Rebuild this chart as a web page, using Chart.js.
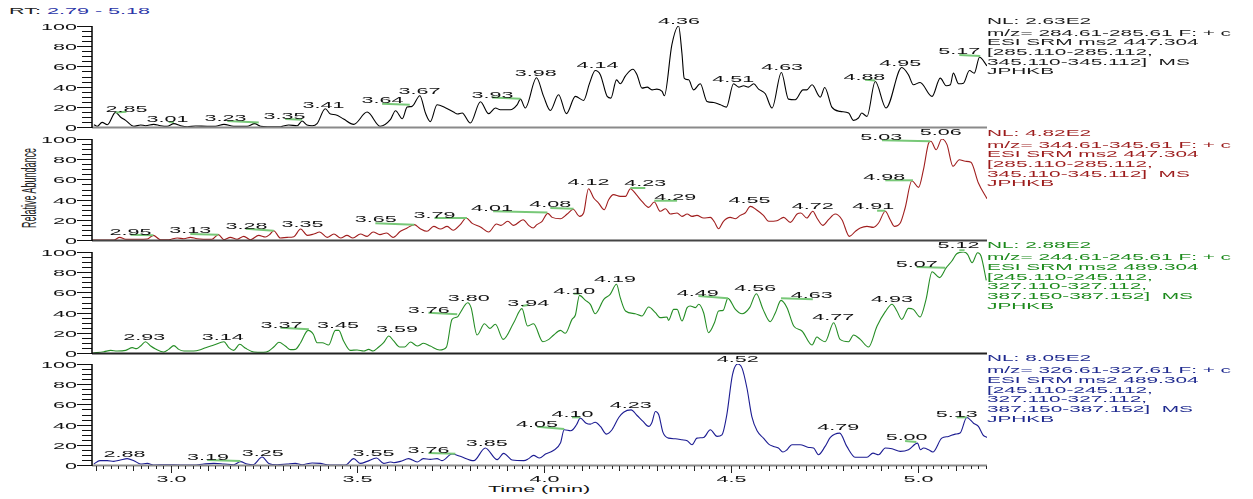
<!DOCTYPE html>
<html>
<head>
<meta charset="utf-8">
<script src="https://cdn.jsdelivr.net/npm/chart.js@4/dist/chart.umd.min.js"></script>
<style>
  html, body { margin: 0; padding: 0; background: #fff; }
  #wrap { position: relative; width: 1253px; height: 499px; overflow: hidden;
          font-family: "Liberation Sans", Arial, sans-serif; }
  canvas { position: absolute; left: 0; }
  .wide { position: absolute; white-space: pre; font-size: 9.5px; transform-origin: 0 0; transform: scaleX(2.27); }
  .info { transform: scaleX(2.19); }
  .info div { height: 9.7px; line-height: 9.7px; }
  .info div:first-child { margin-bottom: 2px; }
  #yTitle { position: absolute; width: 110px; height: 12px; line-height: 12px; left: -26.5px; top: 182px;
            text-align: center; font-size: 9px; color: #222; white-space: pre;
            transform: rotate(-90deg) scaleY(2.27); }
</style>
</head>
<body>
<div id="wrap">
  <div class="wide" style="left:9px;top:5.7px;line-height:10px;color:#222">RT: <span style="color:#2b36a8">2.79 - 5.18</span></div>
  <div id="yTitle">Relative Abundance</div>
  <div class="wide" style="left:488px;top:484px;line-height:10px;color:#111">Time (min)</div>
</div>
<script>
// ---- retention time range and axis ticks ----
const rtMin = 2.79;
const rtMax = 5.184;
const xTickLabels = ['3.0', '3.5', '4.0', '4.5', '5.0'];
const yTickLabels = ['0', '20', '40', '60', '80', '100'];

// ---- trace 1: m/z 284.61-285.61 ----
const rt1 = [2.795,2.804,2.817,2.831,2.853,2.866,2.880,2.902,2.920,2.933,
  2.955,2.973,2.991,3.009,3.027,3.045,3.067,3.098,3.120,3.143,
  3.169,3.205,3.225,3.241,3.259,3.294,3.316,3.339,3.352,3.365,
  3.379,3.392,3.414,3.428,3.441,3.463,3.490,3.526,3.561,3.588,
  3.602,3.620,3.633,3.646,3.667,3.682,3.695,3.713,3.735,3.757,
  3.768,3.780,3.802,3.829,3.851,3.869,3.882,3.909,3.927,3.936,
  3.949,3.979,3.998,4.016,4.038,4.059,4.083,4.105,4.121,4.136,
  4.150,4.168,4.178,4.193,4.203,4.217,4.237,4.248,4.261,4.275,
  4.288,4.301,4.315,4.321,4.341,4.359,4.368,4.374,4.386,4.399,
  4.417,4.435,4.453,4.471,4.487,4.506,4.520,4.533,4.546,4.560,
  4.573,4.591,4.609,4.634,4.653,4.671,4.692,4.702,4.716,4.738,
  4.750,4.769,4.791,4.814,4.827,4.840,4.849,4.863,4.885,4.914,
  4.956,4.974,4.987,5.005,5.037,5.059,5.075,5.086,5.094,5.108,
  5.121,5.137,5.150,5.164,5.184];
const ab1 = [2.3,0.7,4.6,2.3,14.5,9.9,6.6,0.7,2,1.3,
  2.6,1.3,0.7,3.3,1.3,0.3,1,0.7,0.7,2.6,
  0.7,0.7,3.3,0.7,0.3,0.3,2,1.3,5.9,2,
  1.3,3.3,18,12.8,12.2,7.9,2.6,14.8,0.7,7.2,
  16.1,8.2,19.7,20.4,30.9,13.8,5.3,22,19.1,14.8,
  12.8,13.8,3.9,25,13.2,18.8,17.1,17.1,22,27.6,
  18.8,48.7,30.3,16.4,31.9,13.2,30.3,26.3,43.4,55.9,
  51.6,30.3,28.6,46.7,42.8,50.7,57.2,51.6,38.5,39.5,
  36.8,37.5,35.2,30.9,81.3,100,73,48.4,46.7,36.8,
  42.8,25.3,24.3,22,19.7,42.8,39.5,40.8,39.5,42.8,
  37.5,32.9,18.8,54,27.6,27,36.8,36.8,41.8,29.6,
  39.1,19.7,15.5,13.8,6.6,8.9,13.8,10.5,45,18.8,
  58.9,51.6,41.8,44.1,30.3,48.4,40.8,41.8,53.3,42.8,
  43.4,55.9,53.3,69.1,60.5];
const peaks1 = ['2.85','3.01','3.23','3.35','3.41','3.64','3.67','3.93','3.98','4.14','4.36','4.51','4.63','4.88','4.95','5.17'];
const peakLabelRt1 = [2.882,2.992,3.147,3.305,3.409,3.567,3.666,3.861,3.977,4.142,4.360,4.505,4.636,4.856,4.952,5.110];
const peakLabelAb1 = [15.1,5.2,5.9,7.9,18.8,23.3,32.6,28.9,50.6,58.2,101.7,45,56.6,46.7,60.8,72.1];
const leaders1 = [[2.853,14.4,2.882,15.1],[2.995,4.9,3.009,4.9],[3.152,5.9,3.236,4.5],[3.307,7.9,3.352,7.2],
  [3.566,23,3.640,22],[3.860,29.2,3.936,27.9],[4.858,46.7,4.885,46],[5.110,71.4,5.166,70.4]];
const info1 = ['NL: 2.63E2','m/z= 284.61-285.61 F: + c','ESI SRM ms2 447.304','[285.110-285.112,','345.110-345.112]  MS','JPHKB'];

// ---- trace 2: m/z 344.61-345.61 ----
const rt2 = [2.793,2.848,2.864,2.880,2.938,2.954,2.973,2.995,3.018,3.036,
  3.053,3.071,3.111,3.128,3.143,3.160,3.178,3.196,3.214,3.236,
  3.254,3.265,3.276,3.294,3.312,3.330,3.348,3.366,3.383,3.399,
  3.419,3.437,3.455,3.472,3.488,3.508,3.526,3.542,3.560,3.578,
  3.595,3.615,3.633,3.652,3.668,3.686,3.704,3.722,3.740,3.756,
  3.775,3.791,3.807,3.829,3.851,3.872,3.884,3.902,3.918,3.943,
  3.958,3.970,3.980,3.994,4.009,4.021,4.043,4.061,4.077,4.094,
  4.105,4.118,4.132,4.145,4.160,4.172,4.185,4.203,4.217,4.230,
  4.246,4.261,4.279,4.294,4.310,4.324,4.337,4.355,4.368,4.382,
  4.395,4.408,4.426,4.444,4.455,4.466,4.479,4.497,4.511,4.524,
  4.537,4.551,4.567,4.586,4.600,4.622,4.640,4.658,4.676,4.686,
  4.702,4.718,4.729,4.745,4.760,4.778,4.796,4.816,4.832,4.845,
  4.863,4.880,4.894,4.912,4.925,4.936,4.952,4.965,4.983,5.001,
  5.014,5.028,5.034,5.048,5.063,5.077,5.093,5.110,5.126,5.141,
  5.161,5.184];
const ab2 = [0,0,2.6,0.7,1,4.6,0.3,0.3,2,1.3,
  2.6,1.3,0.7,5.3,0.3,2.6,0.7,3.6,0.3,4.6,
  3,5.3,9.2,2,2.6,3.3,10.9,4.6,5.9,7.9,
  2.6,5.9,2,4.6,2,5.9,3.6,7.9,5.3,6.9,
  2.6,8.6,11.9,15.2,11.2,8.6,13.5,10.9,13.5,9.6,
  15.2,21.8,16.5,12.9,7.9,15.8,14.5,18.5,14.5,20.1,
  14.5,11.9,15.2,18.5,26.4,22.4,21.1,25.7,30.4,23.4,
  26.7,50.8,41.6,36.6,30,39.9,44.9,43.2,43.2,50.8,
  44.9,38.3,32.3,37.6,28.4,31,25.7,26.7,23.4,25.7,
  23.4,24.4,21.8,22.4,17.8,11.2,18.5,22.4,21.1,24.4,
  26.7,33.3,30,24.4,18.5,19.1,22.4,17.5,25.7,26.7,
  21.8,28.4,21.8,14.5,20.1,25.7,20.1,3.6,8.6,11.9,
  13.5,12.5,16.8,28.4,20.1,13.5,16.8,31.7,58.7,52.1,
  69.6,96,97.7,89.4,100,94.4,72.9,79.5,77.9,76.9,
  56.4,40.9];
const peaks2 = ['2.95','3.13','3.28','3.35','3.65','3.79','4.01','4.08','4.12','4.23','4.29','4.55','4.72','4.91','4.98','5.03','5.06'];
const peakLabelRt2 = [2.893,3.053,3.203,3.353,3.549,3.706,3.860,4.016,4.118,4.270,4.350,4.549,4.718,4.880,4.909,4.901,5.060];
const peakLabelAb2 = [5.2,6.6,11.2,12.9,17.5,21.8,29,32.7,54.2,53.2,39.9,36.3,31,31,59.7,99.3,103.7];
const leaders2 = [[2.893,5.2,2.954,4.6],[3.053,5.9,3.128,5.3],[3.201,11.2,3.276,9.2],[3.548,16.5,3.652,15.2],
  [3.706,21.8,3.793,21.8],[3.863,28.4,4.008,27.2],[4.016,31.7,4.078,31],[4.230,51.5,4.270,51.5],
  [4.294,38.9,4.355,38.9],[4.890,29,4.912,29],[4.912,59.1,4.986,59.1],[4.903,98.7,5.032,97.7]];
const info2 = ['NL: 4.82E2','m/z= 344.61-345.61 F: + c','ESI SRM ms2 447.304','[285.110-285.112,','345.110-345.112]  MS','JPHKB'];

// ---- trace 3: m/z 244.61-245.61 ----
const rt3 = [2.793,2.822,2.840,2.857,2.880,2.898,2.909,2.920,2.933,2.947,
  2.960,2.982,2.995,3.009,3.022,3.036,3.062,3.080,3.094,3.116,
  3.143,3.156,3.169,3.185,3.201,3.223,3.249,3.263,3.276,3.290,
  3.307,3.321,3.334,3.348,3.368,3.382,3.392,3.406,3.423,3.441,
  3.450,3.463,3.481,3.499,3.517,3.530,3.542,3.557,3.570,3.584,
  3.597,3.613,3.626,3.642,3.660,3.677,3.695,3.720,3.738,3.753,
  3.767,3.775,3.795,3.804,3.820,3.840,3.854,3.869,3.890,3.918,
  3.940,3.955,3.971,3.996,4.012,4.025,4.043,4.056,4.074,4.083,
  4.094,4.110,4.123,4.136,4.159,4.176,4.193,4.203,4.217,4.243,
  4.261,4.279,4.297,4.310,4.328,4.332,4.346,4.355,4.368,4.382,
  4.390,4.404,4.413,4.426,4.439,4.455,4.466,4.478,4.491,4.511,
  4.529,4.549,4.567,4.585,4.604,4.618,4.633,4.649,4.667,4.689,
  4.716,4.729,4.738,4.751,4.774,4.791,4.814,4.827,4.845,4.867,
  4.890,4.912,4.930,4.943,4.956,4.974,4.987,5.005,5.021,5.037,
  5.057,5.075,5.090,5.103,5.121,5.132,5.144,5.159,5.168,5.182];
const ab3 = [0,1.3,2.6,2,2.6,5.3,4.3,6.9,11.2,6.9,
  4,1,3.6,7.3,3.6,2,2,3.3,5.3,7.9,
  11.2,5.3,2.6,8.6,4.6,1,0.7,2,5.9,10.6,
  6.9,3.3,3.6,10.2,22.4,18.5,10.2,10.2,7.9,22.4,
  22.4,11.9,2.6,3,2,3.6,2,5.9,10.2,16.8,
  11.9,5.9,5.9,10.9,6.9,9.6,6.9,3,5.9,33.3,
  35.6,39.9,49.8,44.9,17.8,29,24.4,28.4,13.5,30,
  43.9,26.7,29,11.2,13.5,17.8,22.4,19.5,33.3,37.6,
  57.1,52.1,48.2,38.9,53.1,58.1,68,54.8,41.6,38.9,
  36.6,45.5,39.9,35,35.6,32.3,43.2,43.2,31.7,44.9,
  46.5,44.9,48.2,39.9,20.1,30,41.6,42.2,54.1,43.2,
  38.9,44.9,58.7,43.2,31,39.9,52.1,44.9,26.7,21.8,
  7.9,15.8,13.5,11.2,30,13.5,11.2,17.8,13.5,5.9,
  26.7,40.9,48.2,41.6,33.3,44.2,43.2,35.6,53.1,80.5,
  74.6,84.5,91.1,98.3,100,97.7,89.4,99.3,96,72];
const peaks3 = ['2.93','3.14','3.37','3.45','3.59','3.76','3.80','3.94','4.10','4.19','4.49','4.56','4.63','4.77','4.93','5.07','5.12'];
const peakLabelRt3 = [2.930,3.140,3.297,3.448,3.606,3.691,3.798,3.957,4.080,4.189,4.410,4.564,4.715,4.773,4.930,4.996,5.108];
const peakLabelAb3 = [12.9,12.9,25,25,20.5,39.9,51.5,46.5,58.7,70.6,56.4,61.4,54.8,32.7,50.5,85.1,103.7];
const leaders3 = [[3.294,25,3.370,23.5],[3.690,39.9,3.767,38.3],[3.940,46.5,3.957,47.5],[4.078,58.7,4.094,58.7],
  [4.412,56.4,4.491,54.2],[4.633,54.2,4.718,53.3],[4.996,85.1,5.072,84.5],[5.110,101.7,5.124,101.7]];
const info3 = ['NL: 2.88E2','m/z= 244.61-245.61 F: + c','ESI SRM ms2 489.304','[245.110-245.112,','327.110-327.112,','387.150-387.152]  MS','JPHKB'];

// ---- trace 4: m/z 326.61-327.61 ----
const rt4 = [2.795,2.811,2.831,2.848,2.866,2.884,2.902,2.920,2.938,2.955,
  2.991,3.027,3.062,3.089,3.116,3.143,3.169,3.187,3.205,3.221,
  3.245,3.263,3.285,3.312,3.334,3.352,3.379,3.401,3.419,3.455,
  3.468,3.490,3.508,3.526,3.551,3.570,3.588,3.597,3.615,3.637,
  3.660,3.676,3.695,3.713,3.726,3.753,3.775,3.811,3.842,3.874,
  3.891,3.914,3.945,3.958,3.971,3.987,4.003,4.023,4.043,4.053,
  4.071,4.086,4.096,4.112,4.123,4.136,4.150,4.166,4.181,4.199,
  4.212,4.232,4.248,4.264,4.279,4.288,4.297,4.306,4.317,4.332,
  4.350,4.368,4.382,4.395,4.408,4.426,4.444,4.462,4.475,4.488,
  4.503,4.517,4.529,4.542,4.555,4.569,4.586,4.600,4.613,4.626,
  4.638,4.649,4.662,4.684,4.707,4.720,4.733,4.751,4.765,4.790,
  4.809,4.832,4.863,4.879,4.894,4.912,4.930,4.952,4.974,4.998,
  5.006,5.014,5.028,5.039,5.063,5.081,5.099,5.112,5.130,5.148,
  5.161,5.173,5.184];
const ab4 = [1,4.3,4.3,3.6,4.9,6.3,4.3,1,1.6,0,
  0.3,0,0,1,1.6,1,0.3,3.3,1,0.3,
  7.9,1.6,0.3,1,1.6,0.3,2,1.6,0.3,0,
  0,6.3,1.6,3.6,6.9,1.6,3,2.3,3.6,6.3,
  3,6.3,5.6,6.3,4.3,10.9,8.6,4.3,16.8,5.3,
  11.5,4.9,4.3,6.3,9.5,6.9,10.9,14.1,21.7,34.9,
  33.9,39.8,46.4,41.4,40.5,42.4,38.2,30.6,34.9,47,
  52.3,54.6,49,43.1,38.2,42.4,53,49.7,32.6,26.6,
  26,25,24,20.1,26.6,27.3,34.9,28.3,29.9,49.7,
  89.1,100,95.7,76,48,33.9,26.6,20.7,18.4,16.8,
  12.8,15.1,20.1,20.1,17.4,16.8,10.2,18.4,27.3,31.6,
  18.4,7.6,7.6,11.8,10.2,16.8,16.1,13.5,15.1,21.7,
  15.1,16.8,15.1,12.8,26.6,28.3,30.6,31.6,47,41.4,
  38.2,29.9,27.3];
const peaks4 = ['2.88','3.19','3.25','3.55','3.76','3.85','4.05','4.10','4.23','4.52','4.79','5.00','5.13'];
const peakLabelRt4 = [2.877,3.100,3.247,3.543,3.690,3.846,3.980,4.075,4.231,4.517,4.786,4.969,5.103];
const peakLabelAb4 = [8.2,5,8.9,8.9,12.2,18.8,37.9,47.8,56.7,102.3,34.7,24.8,47.8];
const leaders4 = [[3.098,5,3.187,4],[3.690,11.9,3.762,11.2],[3.981,37.9,4.053,35.6],[4.074,47.2,4.096,47.2],
  [4.965,23.8,4.995,22.8],[5.103,47.2,5.130,47.2]];
const info4 = ['NL: 8.05E2','m/z= 326.61-327.61 F: + c','ESI SRM ms2 489.304','[245.110-245.112,','327.110-327.112,','387.150-387.152]  MS','JPHKB'];

// ---- drawing helpers ----
const SX = 2.27;                       // horizontal stretch of all annotation text
const FONT = '9.5px "Liberation Sans", Arial, sans-serif';

function wideText(ctx, txt, x, y, align, base) {
  ctx.save();
  ctx.translate(x, y);
  ctx.scale(SX, 1);
  ctx.textAlign = align;
  ctx.textBaseline = base;
  ctx.fillText(txt, 0, 0);
  ctx.restore();
}

// axes, tick marks and peak labels for one trace
function axisDecor(p) {
  return {
    id: 'axisDecor' + p.key,
    afterDatasetsDraw(chart) {
      const { ctx, chartArea: a, scales: { x, y } } = chart;
      ctx.save();
      ctx.font = FONT;
      ctx.fillStyle = '#111';
      // y ticks every 5 %, labelled every 20 %
      ctx.strokeStyle = '#111';
      ctx.lineWidth = 1;
      for (let v = 0; v <= 100; v += 5) {
        const py = Math.round(y.getPixelForValue(v)) + 0.5;
        const major = v % 20 === 0;
        ctx.beginPath();
        ctx.moveTo(a.left - (major ? 15 : 10), py);
        ctx.lineTo(a.left, py);
        ctx.stroke();
        if (major) wideText(ctx, yTickLabels[v / 20], a.left - 15, py + 0.5, 'right', 'middle');
      }
      // time axis line
      ctx.strokeStyle = p.axisColor;
      ctx.lineWidth = 2;
      ctx.beginPath();
      ctx.moveTo(a.left, a.bottom + 0.5);
      ctx.lineTo(a.right, a.bottom + 0.5);
      ctx.stroke();
      // abundance axis line
      ctx.strokeStyle = '#000';
      ctx.lineWidth = 1.5;
      ctx.beginPath();
      ctx.moveTo(a.left, a.top);
      ctx.lineTo(a.left, a.bottom + 1);
      ctx.stroke();
      // time ticks under the lowest trace
      if (p.bottom) {
        ctx.strokeStyle = '#222';
        ctx.lineWidth = 1;
        for (let i = 140; i <= 259; i++) {
          const px = Math.round(x.getPixelForValue(i / 50)) + 0.5;
          const len = i % 25 === 0 ? 7 : (i % 5 === 0 ? 5 : 3);
          ctx.beginPath();
          ctx.moveTo(px, a.bottom + 1);
          ctx.lineTo(px, a.bottom + 1 + len);
          ctx.stroke();
          if (i % 25 === 0) {
            wideText(ctx, xTickLabels[i / 25 - 6], px, a.bottom + 16.5, 'center', 'alphabetic');
          }
        }
      }
      // peak retention-time labels
      ctx.fillStyle = '#111';
      p.peaks.forEach((t, i) => {
        wideText(ctx, t, x.getPixelForValue(p.labRt[i]), y.getPixelForValue(p.labAb[i]), 'center', 'alphabetic');
      });
      ctx.restore();
    }
  };
}

const panels = [
  { key: 1, top: 0,   chartTop: 26,  xh: 4,  rt: rt1, ab: ab1, color: '#000000', axisColor: '#8a8a8a', textColor: '#1a1a1a',
    peaks: peaks1, labRt: peakLabelRt1, labAb: peakLabelAb1, leaders: leaders1, info: info1, infoY: 20.7 },
  { key: 2, top: 113, chartTop: 26,  xh: 4,  rt: rt2, ab: ab2, color: '#a01e1e', axisColor: '#444444', textColor: '#9c1c1c',
    peaks: peaks2, labRt: peakLabelRt2, labAb: peakLabelAb2, leaders: leaders2, info: info2, infoY: 132.7 },
  { key: 3, top: 226, chartTop: 26,  xh: 4,  rt: rt3, ab: ab3, color: '#258d25', axisColor: '#222222', textColor: '#1c8a1c',
    peaks: peaks3, labRt: peakLabelRt3, labAb: peakLabelAb3, leaders: leaders3, info: info3, infoY: 245.3 },
  { key: 4, top: 338, chartTop: 26,  xh: 34, rt: rt4, ab: ab4, color: '#1c1c92', axisColor: '#8a8a8a', textColor: '#1f2a8f',
    peaks: peaks4, labRt: peakLabelRt4, labAb: peakLabelAb4, leaders: leaders4, info: info4, infoY: 358.3, bottom: true }
];

const wrap = document.getElementById('wrap');
const PLOT_H = 101;

panels.forEach(p => {
  const cv = document.createElement('canvas');
  cv.width = 1253;
  cv.height = p.chartTop + PLOT_H + p.xh;
  cv.style.top = p.top + 'px';
  wrap.appendChild(cv);

  // scan header text beside the trace
  const box = document.createElement('div');
  box.className = 'wide info';
  box.style.left = '987px';
  box.style.top = (p.infoY - 4.85) + 'px';
  box.style.color = p.textColor;
  p.info.forEach(line => {
    const d = document.createElement('div');
    d.textContent = line;
    box.appendChild(d);
  });
  wrap.appendChild(box);

  const datasets = [{
    data: p.rt.map((t, i) => ({ x: t, y: p.ab[i] })),
    borderColor: p.color,
    borderWidth: 1.1,
    pointRadius: 0,
    cubicInterpolationMode: 'monotone',
    fill: false,
    order: 1
  }];
  p.leaders.forEach(s => datasets.push({
    data: [{ x: s[0], y: s[1] }, { x: s[2], y: s[3] }],
    borderColor: '#78c878',
    borderWidth: 2,
    pointRadius: 0,
    fill: false,
    clip: false,
    order: 0
  }));

  new Chart(cv, {
    type: 'line',
    data: { datasets },
    options: {
      responsive: false,
      devicePixelRatio: 1,
      animation: false,
      events: [],
      layout: { padding: { left: 92, right: 266, top: p.chartTop, bottom: p.xh } },
      plugins: { legend: { display: false }, tooltip: { enabled: false } },
      scales: {
        x: { type: 'linear', display: false, min: rtMin, max: rtMax },
        y: { type: 'linear', display: false, min: 0, max: 100 }
      }
    },
    plugins: [axisDecor(p)]
  });
});
</script>
</body>
</html>
